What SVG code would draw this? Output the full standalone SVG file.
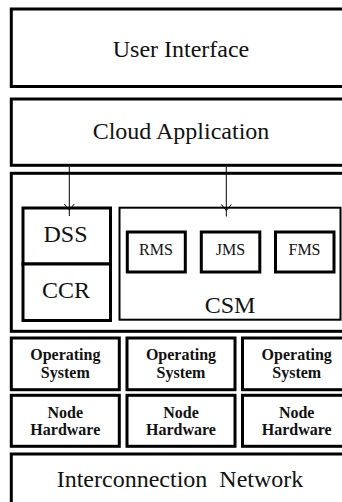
<svg xmlns="http://www.w3.org/2000/svg" width="342" height="502" viewBox="0 0 342 502">
<style>
  .box { fill: #fff; stroke: #000; stroke-width: 3; }
  .thin { fill: none; stroke: #000; stroke-width: 2; }
  .t { font-family: "Liberation Serif", "Times New Roman", serif; fill: #111; text-anchor: middle; }
  .big { font-size: 24px; }
  .small { font-size: 16px; }
  .bold { font-size: 16px; font-weight: bold; }
  .conn { fill: none; stroke: #000; stroke-width: 1; }
</style>
<defs>
  <marker id="arr" markerWidth="12" markerHeight="10" refX="6" refY="0" orient="auto" markerUnits="userSpaceOnUse" viewBox="-6 -5 12 10" overflow="visible">
    <polyline points="-6,-5 0,0 -6,5" fill="none" stroke="#000" stroke-width="1"/>
  </marker>
</defs>
<rect width="342" height="502" fill="#fff"/>

<g id="user-interface">
  <rect class="box" x="11.3" y="9" width="345" height="77.5"/>
  <text class="t big" x="181" y="57">User Interface</text>
</g>
<g id="cloud-application">
  <rect class="box" x="11.3" y="99" width="345" height="66.3"/>
  <text class="t big" x="181" y="138.5">Cloud Application</text>
</g>
<g id="middleware">
  <rect class="box" x="11.3" y="173.3" width="345" height="158"/>
</g>
<g id="dss">
  <rect class="box" x="23" y="208" width="87.5" height="56"/>
  <text class="t big" x="65.5" y="241.7">DSS</text>
</g>
<g id="ccr">
  <rect class="box" x="23" y="264" width="87.5" height="56.5"/>
  <text class="t big" x="66" y="297.7">CCR</text>
</g>
<g id="csm">
  <rect class="thin" x="119.5" y="207.7" width="221" height="112"/>
  <text class="t big" x="230" y="313.3">CSM</text>
</g>
<g id="rms">
  <rect class="box" x="127.3" y="232" width="58" height="40"/>
  <text class="t small" x="156" y="255">RMS</text>
</g>
<g id="jms">
  <rect class="box" x="201.3" y="232" width="58.5" height="40"/>
  <text class="t small" x="230.5" y="255">JMS</text>
</g>
<g id="fms">
  <rect class="box" x="275.5" y="232" width="58.5" height="40"/>
  <text class="t small" x="304.5" y="255">FMS</text>
</g>

<g id="os1">
  <rect class="box" x="11.3" y="338" width="108" height="51.7"/>
  <text class="t bold" x="65.3" y="360">Operating</text>
  <text class="t bold" x="65.3" y="377.7">System</text>
</g>
<g id="os2">
  <rect class="box" x="127" y="338" width="108" height="51.7"/>
  <text class="t bold" x="181" y="360">Operating</text>
  <text class="t bold" x="181" y="377.7">System</text>
</g>
<g id="os3">
  <rect class="box" x="242.5" y="338" width="109" height="51.7"/>
  <text class="t bold" x="296.7" y="360">Operating</text>
  <text class="t bold" x="296.7" y="377.7">System</text>
</g>
<g id="nh1">
  <rect class="box" x="11.3" y="395.3" width="108" height="51"/>
  <text class="t bold" x="65.3" y="418.3">Node</text>
  <text class="t bold" x="65.3" y="435">Hardware</text>
</g>
<g id="nh2">
  <rect class="box" x="127" y="395.3" width="108" height="51"/>
  <text class="t bold" x="181" y="418.3">Node</text>
  <text class="t bold" x="181" y="435">Hardware</text>
</g>
<g id="nh3">
  <rect class="box" x="242.5" y="395.3" width="109" height="51"/>
  <text class="t bold" x="296.7" y="418.3">Node</text>
  <text class="t bold" x="296.7" y="435">Hardware</text>
</g>
<g id="interconnection-network">
  <rect class="box" x="11.3" y="454" width="345" height="60"/>
  <text class="t big" x="180" y="486.7" word-spacing="6">Interconnection Network</text>
</g>

<g id="connectors">
  <line class="conn" x1="69.3" y1="166.5" x2="69.3" y2="216" marker-end="url(#arr)"/>
  <line class="conn" x1="226.3" y1="166.5" x2="226.3" y2="216.5" marker-end="url(#arr)"/>
</g>
</svg>
